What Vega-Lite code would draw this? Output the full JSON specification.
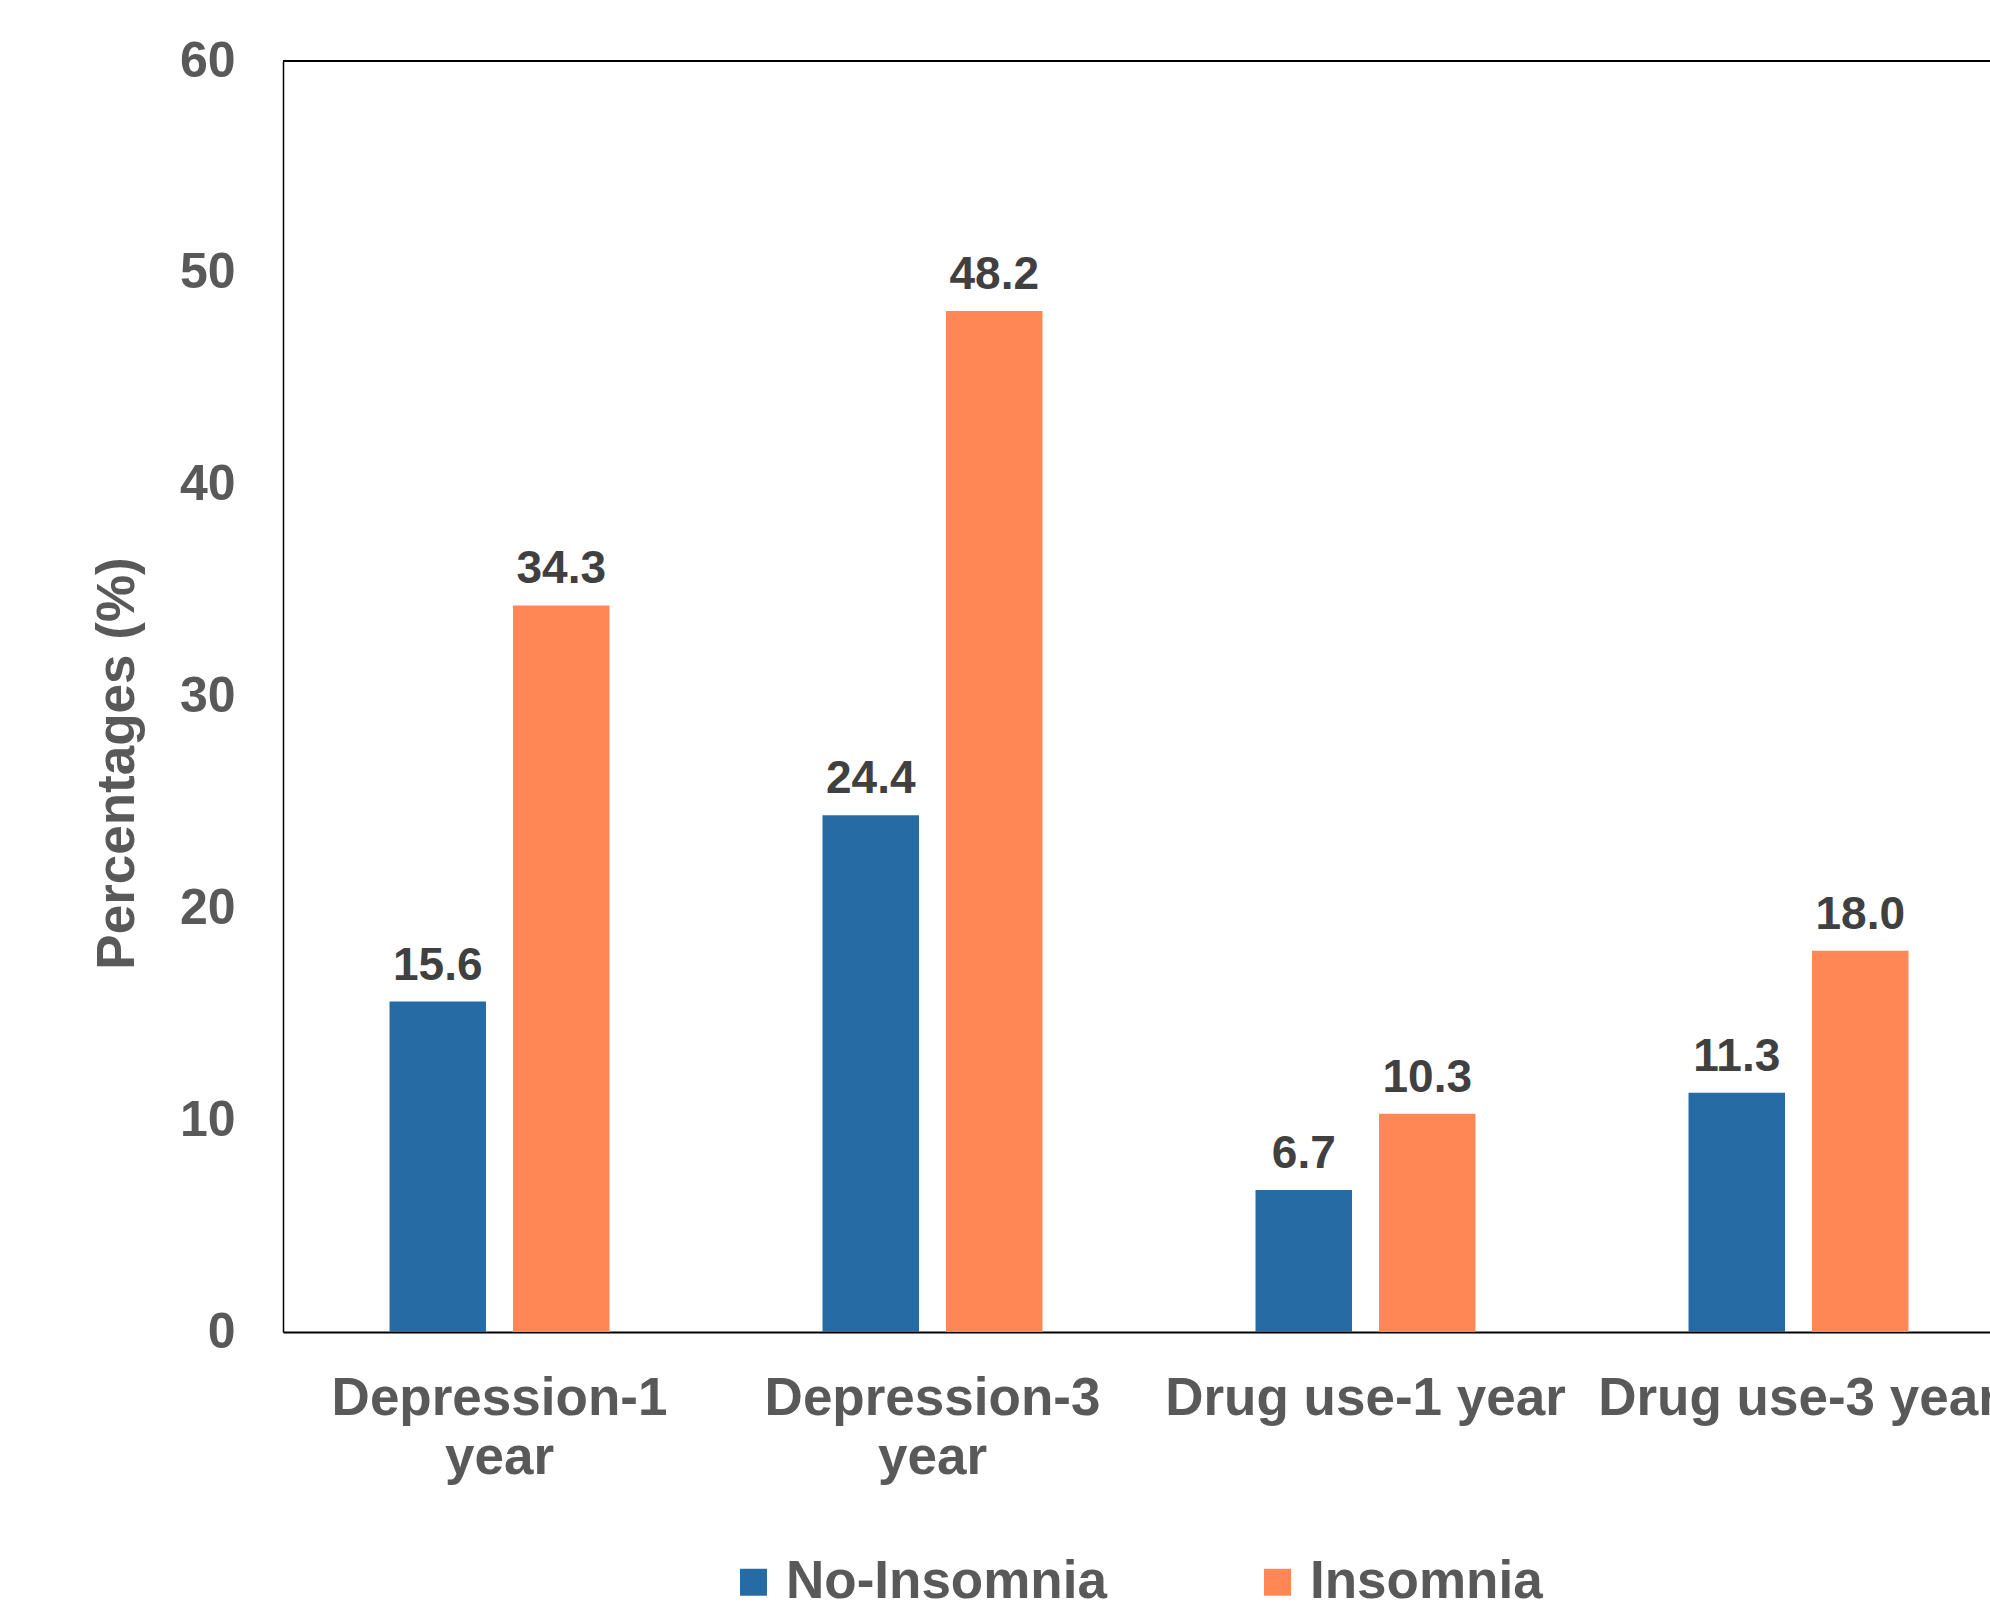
{
  "$schema": "https://vega.github.io/schema/vega-lite/v6.json",
  "autosize": {"type": "none"},
  "padding": {"left": 283, "top": 61, "right": 0, "bottom": 273},
  "width": 1707,
  "height": 1271,
  "background": "white",
  "config": {"view": {"stroke": null}, "font": "Liberation Sans"},
  "data": {
    "values": [
      {"cat": "Depression-1 year", "group": "No-Insomnia", "pct": 15.6},
      {"cat": "Depression-1 year", "group": "Insomnia", "pct": 34.3},
      {"cat": "Depression-3 year", "group": "No-Insomnia", "pct": 24.4},
      {"cat": "Depression-3 year", "group": "Insomnia", "pct": 48.2},
      {"cat": "Drug use-1 year", "group": "No-Insomnia", "pct": 6.7},
      {"cat": "Drug use-1 year", "group": "Insomnia", "pct": 10.3},
      {"cat": "Drug use-3 year", "group": "No-Insomnia", "pct": 11.3},
      {"cat": "Drug use-3 year", "group": "Insomnia", "pct": 18.0}
    ]
  },
  "layer": [
    {
      "mark": {"type": "rule", "stroke": "black", "strokeWidth": 2},
      "encoding": {"y": {"datum": 60, "type": "quantitative"}}
    },
    {
      "mark": {"type": "bar"},
      "encoding": {
        "x": {
          "field": "cat", "type": "nominal", "sort": null,
          "scale": {"range": [0, 1732], "paddingInner": 0.492, "paddingOuter": 0.246},
          "axis": {
            "title": null,
            "labelAngle": 0,
            "labelAlign": "center",
            "labelBaseline": "alphabetic",
            "labelFont": "Liberation Sans",
            "labelFontSize": 53,
            "labelFontWeight": "bold",
            "labelColor": "#595959",
            "labelLineHeight": 59,
            "labelPadding": 82,
            "labelLimit": 1000,
            "labelOverlap": false,
            "labelExpr": "indexof(datum.label, 'Depression') == 0 ? [slice(datum.label, 0, 12), 'year'] : datum.label",
            "ticks": false,
            "tickSize": 0,
            "domain": true,
            "domainColor": "black",
            "domainWidth": 2,
            "grid": false
          }
        },
        "xOffset": {
          "field": "group", "type": "nominal",
          "sort": ["No-Insomnia", "Insomnia"],
          "scale": {"paddingInner": 0.2186, "paddingOuter": 0}
        },
        "y": {
          "field": "pct", "type": "quantitative",
          "scale": {"domain": [0, 60], "nice": false},
          "axis": {
            "values": [0, 10, 20, 30, 40, 50, 60],
            "title": "Percentages (%)",
            "titleFont": "Liberation Sans",
            "titleFontSize": 53,
            "titleFontWeight": "bold",
            "titleColor": "#595959",
            "titleAngle": 270,
            "titleBaseline": "alphabetic",
            "titleAlign": "center",
            "titleX": -150,
            "titleY": 702,
            "labelFont": "Liberation Sans",
            "labelFontSize": 50,
            "labelFontWeight": "bold",
            "labelColor": "#595959",
            "labelPadding": 48,
            "labelBaseline": "middle",
            "ticks": false,
            "tickSize": 0,
            "domainColor": "black",
            "domainWidth": 1.5,
            "grid": false
          }
        },
        "color": {
          "field": "group", "type": "nominal",
          "scale": {"domain": ["No-Insomnia", "Insomnia"], "range": ["#276BA5", "#FF8755"]},
          "legend": {
            "orient": "none",
            "legendX": 444,
            "legendY": 1494.5,
            "direction": "horizontal",
            "title": null,
            "padding": 0,
            "symbolType": "square",
            "symbolSize": 729,
            "symbolStrokeWidth": 0,
            "symbolOpacity": 1,
            "labelFont": "Liberation Sans",
            "labelFontSize": 53,
            "labelFontWeight": "bold",
            "labelColor": "#595959",
            "labelOffset": 6,
            "columnPadding": 144,
            "labelLimit": 1000
          }
        }
      }
    },
    {
      "mark": {"type": "text", "baseline": "alphabetic", "align": "center", "dy": -22, "font": "Liberation Sans", "fontSize": 46, "fontWeight": "bold", "color": "#404040"},
      "encoding": {
        "x": {"field": "cat", "type": "nominal", "sort": null},
        "xOffset": {"field": "group", "type": "nominal", "sort": ["No-Insomnia", "Insomnia"]},
        "y": {"field": "pct", "type": "quantitative"},
        "text": {"field": "pct", "type": "quantitative", "format": ".1f"}
      }
    }
  ]
}
